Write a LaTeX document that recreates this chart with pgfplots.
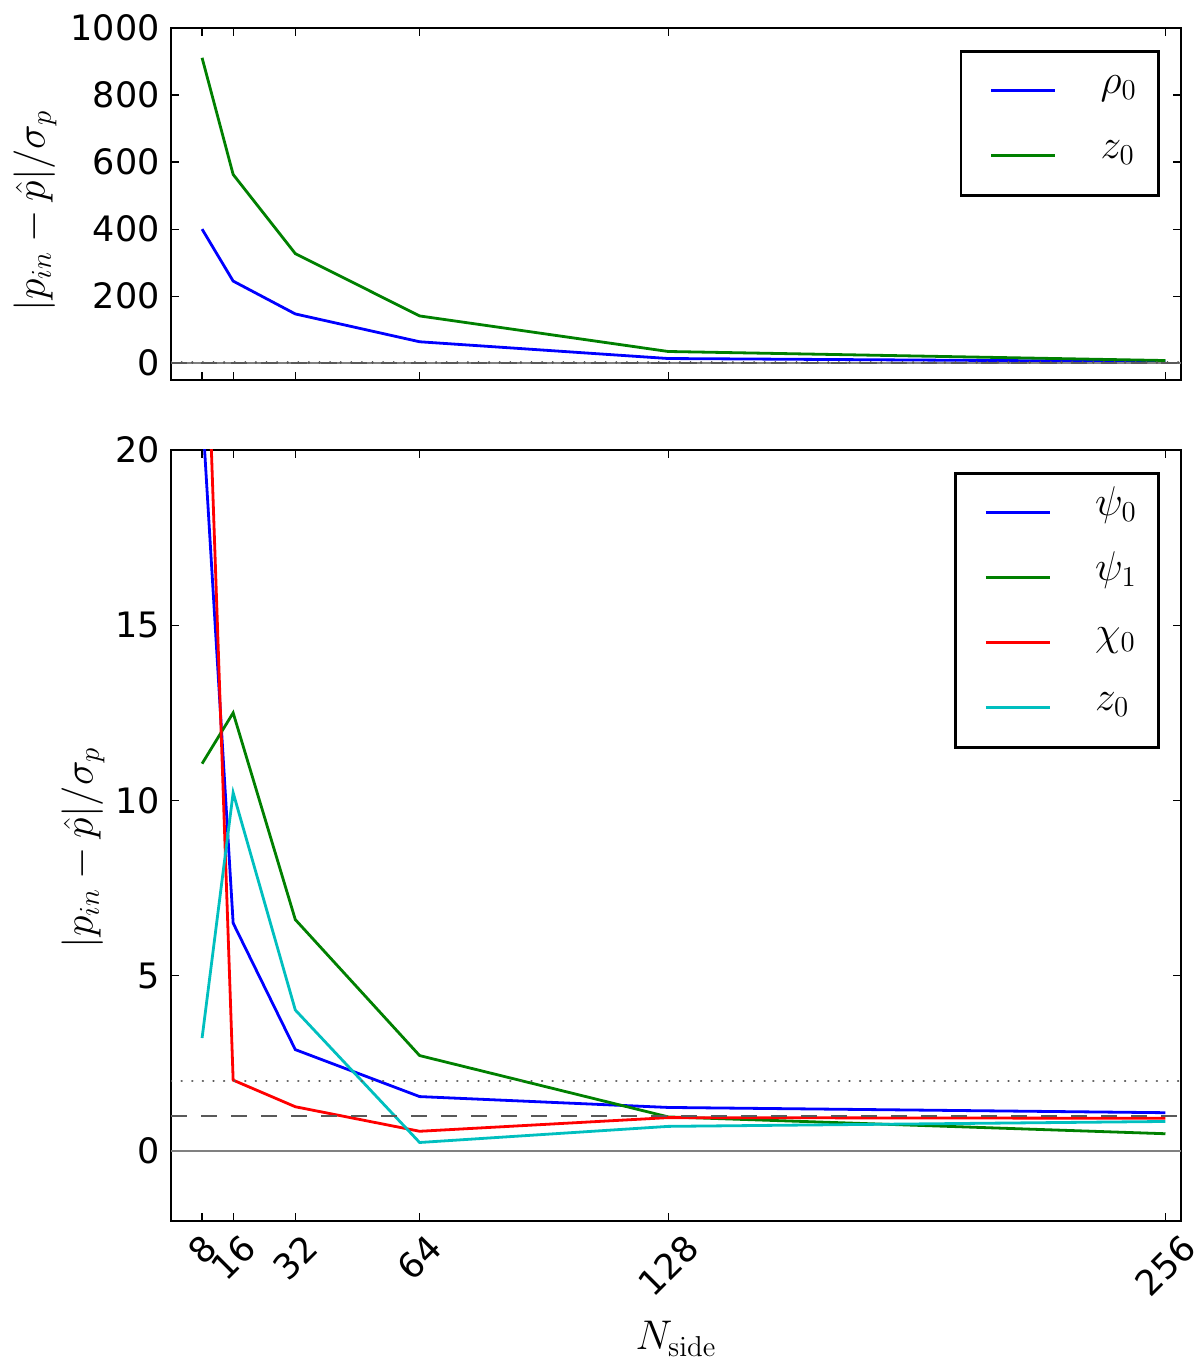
\documentclass[border=0pt]{standalone}
\usepackage[no-math]{fontspec}
\setmainfont{DejaVu Sans}
\usepackage{graphicx}
\usepackage{pgfplots}
\pgfplotsset{compat=1.18}
\definecolor{mplgreen}{rgb}{0,0.5,0}
\definecolor{mplcyan}{rgb}{0,0.75,0.75}
\pgfplotsset{
  myax/.style={
    scale only axis, width=505pt,
    xmin=0, xmax=260,
    xtick={8,16,32,64,128,256},
    axis line style={line width=1.3pt},
    tick align=inside, tick pos=both,
    major tick length=4pt,
    every tick/.style={black, line width=0.6pt},
    /pgf/number format/assume math mode=true,
    /pgf/number format/1000 sep={},
    tick label style={font=\fontsize{17.5}{21}\selectfont},
    yticklabel style={inner sep=0pt, xshift=-5.5pt},
    legend style={at={(axis description cs:0.9792,0.9375)}, anchor=north east,
      draw=black, line width=1.3pt, inner xsep=11pt, inner ysep=8pt,
      font=\fontsize{21}{24}\selectfont,
      nodes={inner sep=0pt, text height=13pt, text depth=10.5pt},
      row sep=9pt, column sep=0pt},
    legend cell align=left,
    legend image code/.code={\path (0pt,0pt); \draw[#1] (3.5pt,0pt) -- (35.5pt,0pt);},
    legend style={/tikz/every odd column/.append style={column sep=22pt}},
    ylabel style={font=\fontsize{20}{24}\selectfont, anchor=center},
  },
  dat/.style={line width=1.4pt},
}
\begin{document}
\begin{tikzpicture}
\path[use as bounding box] (-85.5pt,-73.5pt) rectangle (514.5pt,610.5pt);
\begin{axis}[myax, at={(0pt,420.5pt)}, anchor=south west, height=176pt,
  ymin=-50, ymax=1000, ytick={0,200,400,600,800,1000},
  xticklabels={},
  ylabel={$|p_{in}-\hat{p}|/\sigma_p$},
  ylabel style={at={(axis description cs:-0.1347,0.48)}},
]
\addplot[dat, blue] coordinates {(8,400) (16,245) (32,147) (64,64) (128,14) (256,5)};
\addlegendentry{$\rho_0$}
\addplot[dat, mplgreen] coordinates {(8,911) (16,563) (32,327) (64,141) (128,35) (256,8)};
\addlegendentry{$z_0$}
\addplot[forget plot, gray, line width=1pt] coordinates {(0,0) (260,0)};
\addplot[forget plot, black!65, line width=1pt, dash pattern=on 8pt off 7pt] coordinates {(0,1) (260,1)};
\addplot[forget plot, black!65, line width=1.2pt, dash pattern=on 0.1pt off 5.2pt, line cap=round] coordinates {(0,2) (260,2)};
\end{axis}
\begin{axis}[myax, at={(0pt,0pt)}, anchor=south west, height=385.5pt,
  ymin=-2, ymax=20, ytick={0,5,10,15,20},
  xticklabels={\rotatebox{45}{8},\rotatebox{45}{16},\rotatebox{45}{32},\rotatebox{45}{64},\rotatebox{45}{128},\rotatebox{45}{256}},
  xticklabel style={anchor=north, inner sep=0pt, yshift=-5.5pt},
  ylabel={$|p_{in}-\hat{p}|/\sigma_p$},
  ylabel style={at={(axis description cs:-0.0871,0.484)}},
  xlabel={$N_{\mathrm{side}}$},
  xlabel style={font=\fontsize{20.5}{24}\selectfont, at={(axis description cs:0.5,-0.1673)}, anchor=base},
  legend style={at={(axis description cs:0.9792,0.9715)}},
]
\addplot[dat, blue] coordinates {(8,21.2) (16,6.5) (32,2.89) (64,1.55) (128,1.24) (256,1.09)};
\addlegendentry{$\psi_0$}
\addplot[dat, mplgreen] coordinates {(8,11.05) (16,12.5) (32,6.6) (64,2.72) (128,0.97) (256,0.49)};
\addlegendentry{$\psi_1$}
\addplot[dat, red] coordinates {(8,27.7) (16,2.02) (32,1.26) (64,0.56) (128,0.95) (256,0.93)};
\addlegendentry{$\chi_0$}
\addplot[dat, mplcyan] coordinates {(8,3.22) (16,10.22) (32,4.02) (64,0.24) (128,0.70) (256,0.84)};
\addlegendentry{$z_0$}
\addplot[forget plot, gray, line width=1pt] coordinates {(0,0) (260,0)};
\addplot[forget plot, black!65, line width=1pt, dash pattern=on 8pt off 7pt] coordinates {(0,1) (260,1)};
\addplot[forget plot, black!65, line width=1.2pt, dash pattern=on 0.1pt off 5.2pt, line cap=round] coordinates {(0,2) (260,2)};
\end{axis}
\end{tikzpicture}
\end{document}
